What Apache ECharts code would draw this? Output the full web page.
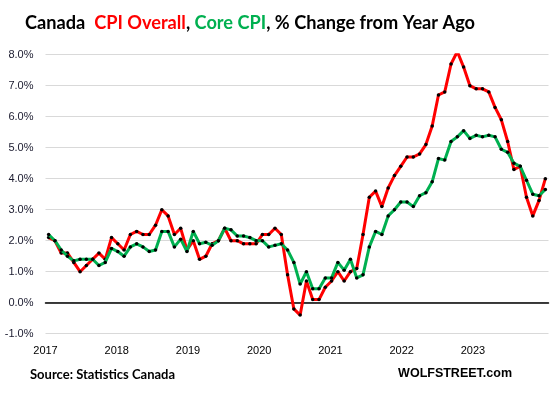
<!DOCTYPE html>
<html><head><meta charset="utf-8">
<script src="https://cdn.jsdelivr.net/npm/echarts@6/dist/echarts.min.js"></script>
<style>html,body{margin:0;padding:0;background:#fff}#c{width:553px;height:394px}</style>
</head><body><div id="c"></div>
<script>
// Monthly, Jan 2017 .. Aug 2023
const yearLabels = ['2017','2018','2019','2020','2021','2022','2023'];
const cpiOverall = [
  2.1, 2.0, 1.6, 1.6, 1.3, 1.0, 1.2, 1.4, 1.6, 1.4, 2.1, 1.9,
  1.7, 2.2, 2.3, 2.2, 2.2, 2.5, 3.0, 2.8, 2.2, 2.4, 1.7, 2.0,
  1.4, 1.5, 1.9, 2.0, 2.4, 2.0, 2.0, 1.9, 1.9, 1.9, 2.2, 2.2,
  2.4, 2.2, 0.9, -0.2, -0.4, 0.7, 0.1, 0.1, 0.5, 0.7, 1.0, 0.7,
  1.0, 1.1, 2.2, 3.4, 3.6, 3.1, 3.7, 4.1, 4.4, 4.7, 4.7, 4.8,
  5.1, 5.7, 6.7, 6.8, 7.7, 8.1, 7.6, 7.0, 6.9, 6.9, 6.8, 6.3,
  5.9, 5.2, 4.3, 4.4, 3.4, 2.8, 3.3, 4.0
];
const coreCpi = [
  2.2, 2.0, 1.7, 1.5, 1.35, 1.4, 1.4, 1.4, 1.2, 1.3, 1.75, 1.65,
  1.5, 1.8, 1.9, 1.8, 1.65, 1.7, 2.3, 2.3, 1.8, 2.05, 1.65, 2.3,
  1.9, 1.95, 1.85, 2.0, 2.4, 2.35, 2.15, 2.15, 2.1, 2.0, 2.0, 1.8,
  1.85, 1.9, 1.7, 1.3, 0.6, 1.0, 0.45, 0.45, 0.8, 0.8, 1.3, 1.05,
  1.4, 0.8, 0.9, 1.8, 2.3, 2.2, 2.8, 3.0, 3.25, 3.25, 3.1, 3.45,
  3.55, 3.9, 4.65, 4.6, 5.2, 5.35, 5.55, 5.3, 5.4, 5.35, 5.4, 5.35,
  4.95, 4.85, 4.5, 4.4, 3.95, 3.5, 3.45, 3.65
];
const yTicks = {min: -1, max: 8, interval: 1};

const toPairs = arr => arr.map((v, i) => [i, v]);
const chart = echarts.init(document.getElementById('c'), null, {renderer: 'canvas'});
const n = cpiOverall.length;
chart.setOption({
  animation: false,
  backgroundColor: '#fff',
  title: [
    {
      left: 25, top: 13, padding: 0,
      text: '{k|Canada  }{r|CPI Overall}{k|, }{g|Core CPI}{k|, % Change from Year Ago}',
      textStyle: {
        rich: {
          k: {color: '#000', fontFamily: 'Lato', fontWeight: 'bold', fontSize: 18.2, lineHeight: 20},
          r: {color: '#ff0000', fontFamily: 'Lato', fontWeight: 'bold', fontSize: 18.2, lineHeight: 20},
          g: {color: '#00b050', fontFamily: 'Lato', fontWeight: 'bold', fontSize: 18.2, lineHeight: 20}
        }
      }
    },
    {
      left: 30, top: 367, padding: 0, text: 'Source: Statistics Canada',
      textStyle: {color: '#000', fontFamily: 'Lato', fontWeight: 'bold', fontSize: 13, lineHeight: 15}
    },
    {
      right: 41, top: 366, padding: 0, text: 'WOLFSTREET.com',
      textStyle: {color: '#000', fontFamily: 'Liberation Sans', fontWeight: 'bold', fontSize: 12.5, lineHeight: 16}
    }
  ],
  grid: {left: 45.5, right: 4.5, top: 54.7, bottom: 60.3, containLabel: false},
  xAxis: [
    {
      type: 'value', min: -0.5, max: n - 0.5, position: 'bottom',
      axisLine: {show: true, onZero: true, lineStyle: {color: '#000', width: 1.5}},
      axisTick: {show: false}, axisLabel: {show: false}, splitLine: {show: false}
    },
    {
      type: 'value', min: 0, max: 7.06, interval: 1, position: 'bottom',
      axisLine: {show: false}, axisTick: {show: false}, splitLine: {show: false},
      axisLabel: {
        margin: 12, color: '#000', fontFamily: 'Liberation Sans', fontSize: 11,
        showMaxLabel: false,
        formatter: v => Number.isInteger(v) && yearLabels[v] ? yearLabels[v] : ''
      }
    }
  ],
  yAxis: {
    type: 'value', min: yTicks.min, max: yTicks.max, interval: yTicks.interval,
    axisLine: {show: false}, axisTick: {show: false},
    splitLine: {lineStyle: {color: '#d9d9d9', width: 1}},
    axisLabel: {margin: 12, color: '#1a1a2e', fontFamily: 'Liberation Sans', fontSize: 11,
      formatter: v => v.toFixed(1) + '%'}
  },
  series: [
    {
      name: 'CPI Overall', type: 'line', xAxisIndex: 0, data: toPairs(cpiOverall),
      lineStyle: {color: '#ff0000', width: 3}, itemStyle: {color: '#000'},
      symbol: 'circle', symbolSize: 3.5, showSymbol: true, z: 2
    },
    {
      name: 'Core CPI', type: 'line', xAxisIndex: 0, data: toPairs(coreCpi),
      lineStyle: {color: '#00b050', width: 3}, itemStyle: {color: '#000'},
      symbol: 'circle', symbolSize: 3.5, showSymbol: true, z: 3
    }
  ]
});
</script></body></html>
